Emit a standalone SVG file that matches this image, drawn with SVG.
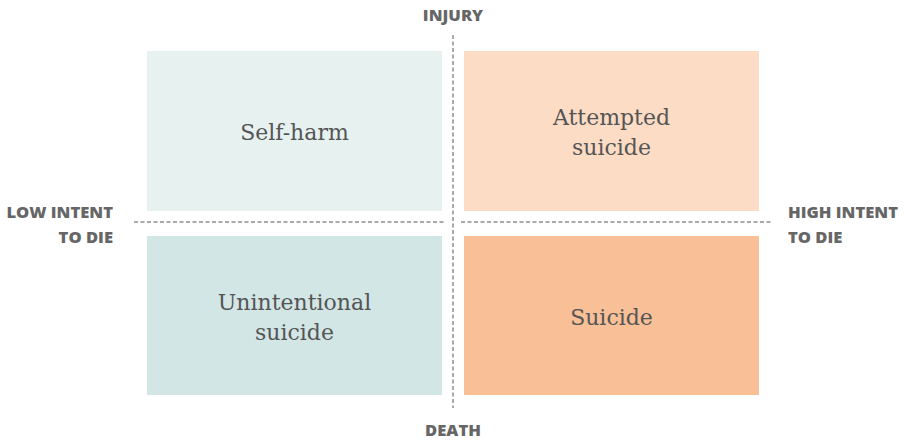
<svg xmlns="http://www.w3.org/2000/svg" width="908" height="441" viewBox="0 0 908 441">
<style>
.q{font-family:"DejaVu Serif","Liberation Serif",serif;font-size:22px;fill:#555;text-anchor:middle}
.ax{font-family:"Open Sans","Liberation Sans",sans-serif;font-weight:800;font-size:16.6px;fill:#666}
.d{stroke:#aaa;stroke-width:2;stroke-dasharray:4 2.5;fill:none}
</style>
<rect width="908" height="441" fill="#fff"/>
<g id="self-harm"><rect x="147" y="51" width="295" height="160" fill="#e6f1f0"/><text class="q" x="294.5" y="140">Self-harm</text></g>
<g id="attempted-suicide"><rect x="464" y="51" width="295" height="160" fill="#fcdcc4"/><text class="q" x="611.5" y="125">Attempted</text><text class="q" x="611.5" y="155">suicide</text></g>
<g id="unintentional-suicide"><rect x="147" y="236" width="295" height="159" fill="#d2e6e5"/><text class="q" x="294.5" y="310">Unintentional</text><text class="q" x="294.5" y="340">suicide</text></g>
<g id="suicide"><rect x="464" y="236" width="295" height="159" fill="#f9bf97"/><text class="q" x="611.5" y="325">Suicide</text></g>
<g id="connectors">
<line class="d" x1="134" y1="222" x2="445" y2="222"/>
<line class="d" x1="461" y1="222" x2="772" y2="222"/>
<line class="d" x1="453" y1="35" x2="453" y2="408"/>
</g>
<g id="axis-labels">
<text class="ax" x="453" y="21" text-anchor="middle">INJURY</text>
<text class="ax" x="453" y="436" text-anchor="middle">DEATH</text>
<text class="ax" x="113" y="218" text-anchor="end">LOW INTENT</text>
<text class="ax" x="113" y="243" text-anchor="end">TO DIE</text>
<text class="ax" x="788" y="218">HIGH INTENT</text>
<text class="ax" x="788" y="243">TO DIE</text>
</g>
</svg>
